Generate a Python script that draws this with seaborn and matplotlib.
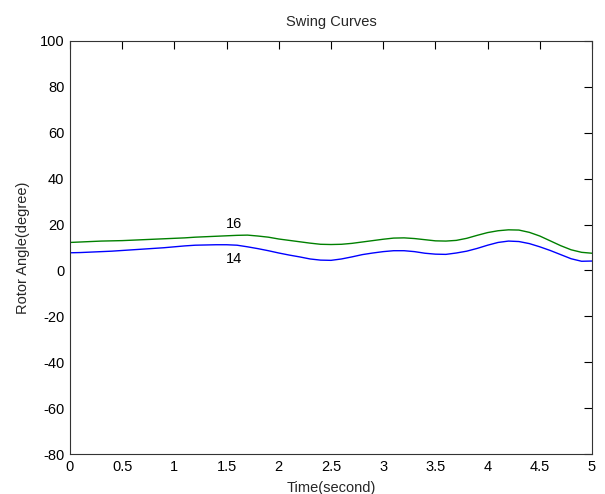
import numpy as np
import pandas as pd
import matplotlib
matplotlib.use("Agg")
import matplotlib.pyplot as plt
import seaborn as sns

time_s = [0.0, 0.1, 0.2, 0.3, 0.4, 0.5, 0.6, 0.7, 0.8, 0.9,
          1.0, 1.1, 1.2, 1.3, 1.4, 1.5, 1.6, 1.7, 1.8, 1.9,
          2.0, 2.1, 2.2, 2.3, 2.4, 2.5, 2.6, 2.7, 2.8, 2.9,
          3.0, 3.1, 3.2, 3.3, 3.4, 3.5, 3.6, 3.7, 3.8, 3.9,
          4.0, 4.1, 4.2, 4.3, 4.4, 4.5, 4.6, 4.7, 4.8, 4.9, 5.0]

angle_16 = [12.2, 12.4, 12.6, 12.8, 12.9, 13.0, 13.2, 13.4, 13.6, 13.8,
            14.0, 14.2, 14.5, 14.7, 14.9, 15.1, 15.3, 15.4, 15.0, 14.5,
            13.7, 13.1, 12.5, 11.9, 11.4, 11.3, 11.4, 11.8, 12.4, 13.0,
            13.6, 14.1, 14.2, 13.9, 13.4, 12.9, 12.8, 13.1, 14.0, 15.3,
            16.5, 17.3, 17.7, 17.6, 16.6, 15.0, 12.9, 10.8, 9.0, 7.9, 7.5]

angle_14 = [7.7, 7.8, 8.0, 8.2, 8.4, 8.7, 9.0, 9.3, 9.6, 9.9,
            10.3, 10.7, 11.0, 11.1, 11.2, 11.2, 11.0, 10.3, 9.5, 8.6,
            7.6, 6.7, 5.9, 5.0, 4.5, 4.4, 5.0, 5.9, 6.9, 7.6,
            8.2, 8.6, 8.6, 8.2, 7.5, 7.1, 7.0, 7.6, 8.4, 9.6,
            11.0, 12.2, 12.8, 12.6, 11.7, 10.3, 8.7, 6.9, 5.1, 4.0, 4.1]

series_names = ["14", "16"]
series_colors = ["#0000ff", "#008000"]

x_ticks = [0, 0.5, 1, 1.5, 2, 2.5, 3, 3.5, 4, 4.5, 5]
x_tick_labels = ["0", "0.5", "1", "1.5", "2", "2.5", "3", "3.5", "4", "4.5", "5"]
y_ticks = [-80, -60, -40, -20, 0, 20, 40, 60, 80, 100]
y_tick_labels = ["-80", "-60", "-40", "-20", "0", "20", "40", "60", "80", "100"]

label_pos = {"16": (1.57, 20.2), "14": (1.57, 5.0)}

sns.set_style("white")
plt.rcParams["font.family"] = ["Liberation Sans", "DejaVu Sans"]
plt.rcParams["font.size"] = 10.5

df = pd.concat([
    pd.DataFrame({"Time": time_s, "Angle": angle_14, "Gen": "14"}),
    pd.DataFrame({"Time": time_s, "Angle": angle_16, "Gen": "16"}),
])

fig = plt.figure(figsize=(6.05, 4.94), dpi=100)
ax = fig.add_axes([70 / 605, 1 - 454 / 494, 522 / 605, 413 / 494])

sns.lineplot(data=df, x="Time", y="Angle", hue="Gen", hue_order=series_names,
             palette=dict(zip(series_names, series_colors)), linewidth=1.0,
             legend=False, ax=ax)

for name in series_names:
    tx, ty = label_pos[name]
    ax.text(tx, ty, name, ha="center", va="center", fontsize=10.5, color="black")

ax.set_xlim(0, 5)
ax.set_ylim(-80, 100)
ax.set_xticks(x_ticks)
ax.set_xticklabels(x_tick_labels)
ax.set_yticks(y_ticks)
ax.set_yticklabels(y_tick_labels)
ax.tick_params(direction="in", length=6, width=0.8, colors="black",
               top=True, right=True, labelsize=10.5, pad=4)
for s in ax.spines.values():
    s.set_visible(True)
    s.set_color("#333333")
    s.set_linewidth(0.8)

ax.set_title("Swing Curves", fontsize=10.5, pad=11)
ax.set_xlabel("Time(second)", fontsize=10.5, labelpad=5)
ax.set_ylabel("Rotor Angle(degree)", fontsize=10.5, labelpad=7)

fig.savefig("out.png", dpi=100, facecolor="white")
